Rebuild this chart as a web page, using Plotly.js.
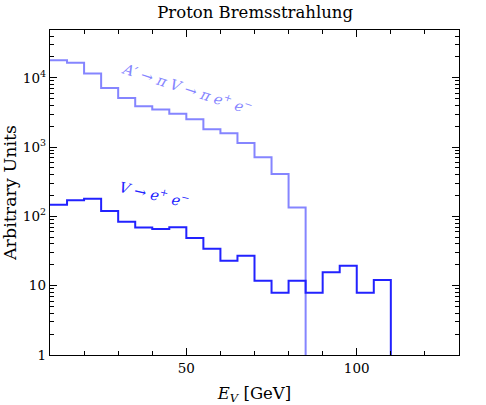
<!DOCTYPE html>
<html>
<head>
<meta charset="utf-8">
<script src="https://cdn.plot.ly/plotly-3.0.1.min.js"></script>
<style>html,body{margin:0;padding:0;background:#fff;}#chart{width:486px;height:405px;}</style>
</head>
<body>
<div id="chart"></div>
<script>
// Bin lower edges (GeV), bin width 5 GeV
const binWidth = 5;
const apBins = [10,15,20,25,30,35,40,45,50,55,60,65,70,75,80];
const apValues = [18000,16500,11500,7100,5100,3900,3500,3030,2520,1810,1580,1150,713,409,134];
const vBins = [10,15,20,25,30,35,40,45,50,55,60,65,70,75,80,85,90,95,100,105];
const vValues = [147,171,180,120,84,69,66,70,49,34,23,27,11.8,7.9,11.8,7.9,15.6,19.4,7.9,12.1];
const apLabel = "<i>A′</i> → <i>π V</i> → <i>π e</i><sup>+</sup> <i>e</i><sup>−</sup>";
const vLabel = "<i>V</i> → <i>e</i><sup>+</sup> <i>e</i><sup>−</sup>";
const yTickVals = [1,10,100,1000,10000];
const yTickText = ["1","10","10<sup>2</sup>","10<sup>3</sup>","10<sup>4</sup>"];
const xTickVals = [50,100];

function steps(bins, vals){
  const x = bins.slice(), y = vals.slice();
  const end = bins[bins.length-1] + binWidth;
  x.push(end); y.push(vals[vals.length-1]);
  x.push(end); y.push(0.5);
  return {x, y};
}
const ap = steps(apBins, apValues);
const v = steps(vBins, vValues);
const font = "DejaVu Serif";
const traces = [
  {x: ap.x, y: ap.y, type:'scatter', mode:'lines', line:{shape:'hv', color:'#8585ff', width:2}, hoverinfo:'skip'},
  {x: v.x, y: v.y, type:'scatter', mode:'lines', line:{shape:'hv', color:'#2222ff', width:2}, hoverinfo:'skip'}
];
const layout = {
  width:486, height:405,
  margin:{l:50, r:27, t:30, b:50},
  paper_bgcolor:'#fff', plot_bgcolor:'#fff',
  showlegend:false,
  font:{family:font, color:'#000', size:13},
  title:{text:'Proton Bremsstrahlung', font:{family:font, size:16.5, color:'#000'}, x:0.525, xanchor:'center', y:0.97, yanchor:'middle', xref:'container', yref:'container'},
  xaxis:{range:[10,130], tickvals:xTickVals, ticks:'inside', ticklen:7, tickwidth:1, tickcolor:'#000',
    showline:true, linecolor:'#000', linewidth:1.3, mirror:'ticks', showgrid:false, zeroline:false,
    tickfont:{family:font, size:13.5},
    minor:{dtick:10, tick0:10, ticks:'inside', ticklen:4, tickcolor:'#000', showgrid:false},
    title:{text:'<i>E</i><sub><i>V</i></sub> [GeV]', font:{family:font, size:16.5}, standoff:13}},
  yaxis:{type:'log', range:[0,4.69], tickvals:yTickVals, ticktext:yTickText, ticks:'inside', ticklen:7, tickwidth:1, tickcolor:'#000',
    showline:true, linecolor:'#000', linewidth:1.3, mirror:'ticks', showgrid:false, zeroline:false,
    tickfont:{family:font, size:13.5},
    minor:{dtick:'D1', ticks:'inside', ticklen:4, tickcolor:'#000', showgrid:false},
    title:{text:'Arbitrary Units', font:{family:font, size:17.5}, standoff:4}},
  annotations:[
    {text:apLabel, xref:'paper', yref:'paper', x:0.164, y:0.823, xanchor:'left', yanchor:'middle', showarrow:false, textangle:18, font:{family:font, size:14.5, color:'#8585ff'}},
    {text:vLabel, xref:'paper', yref:'paper', x:0.161, y:0.495, xanchor:'left', yanchor:'middle', showarrow:false, textangle:13, font:{family:font, size:14.5, color:'#2222ff'}}
  ]
};
Plotly.newPlot('chart', traces, layout, {staticPlot:true, displayModeBar:false});
</script>
</body>
</html>
